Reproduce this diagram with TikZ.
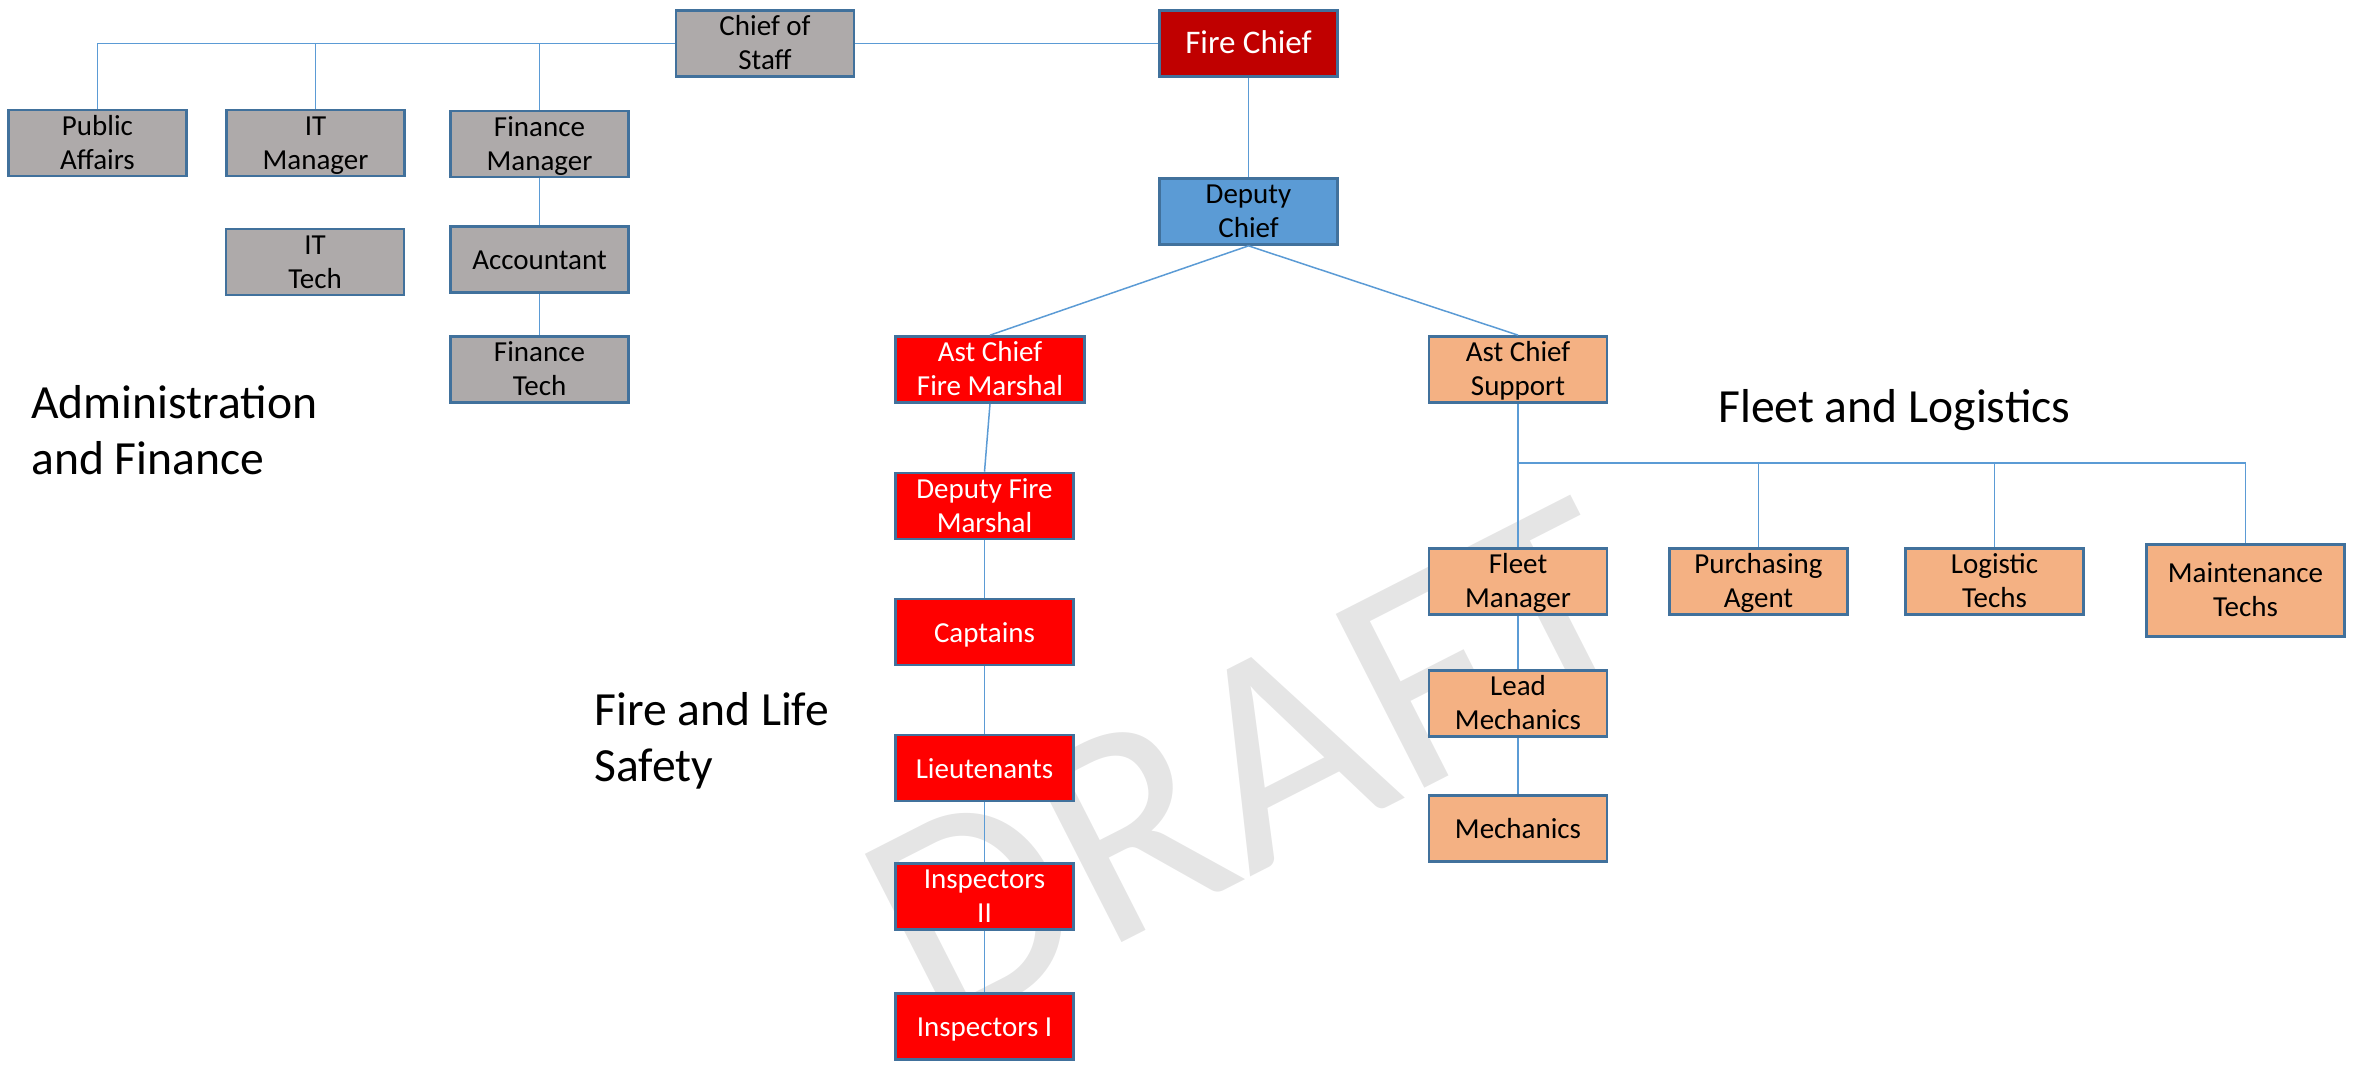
\documentclass[tikz,border=0pt]{standalone}
\usepackage{fontspec}
\setmainfont{Carlito}
\definecolor{boxline}{HTML}{41719C}
\definecolor{linkblue}{HTML}{5B9BD5}
\definecolor{greyfill}{HTML}{AEAAAA}
\definecolor{chiefred}{HTML}{C00000}
\definecolor{firered}{HTML}{FF0000}
\definecolor{depblue}{HTML}{5B9BD5}
\definecolor{supportorange}{HTML}{F4B183}
\definecolor{draftgrey}{HTML}{E5E5E5}
\tikzstyle{orgbox} = [draw=boxline, line width=1.35pt, rectangle,
    minimum width=89pt, minimum height=33pt, inner sep=0pt, align=center,
    font=\fontsize{14.5}{17}\selectfont, text height=13pt, text depth=3pt]
\tikzstyle{twoline} = [text height=29pt]
\tikzstyle{greybox} = [orgbox, fill=greyfill]
\tikzstyle{chiefbox} = [orgbox, fill=chiefred, text=white]
\tikzstyle{redbox} = [orgbox, fill=firered, text=white]
\tikzstyle{bluebox} = [orgbox, fill=depblue]
\tikzstyle{orangebox} = [orgbox, fill=supportorange]
\tikzstyle{link} = [draw=linkblue, line width=0.75pt]
\tikzstyle{grouptitle} = [font=\fontsize{23.8}{28}\selectfont, align=left,
    inner sep=0pt, anchor=base west]
\begin{document}
\begin{tikzpicture}[x=0.5pt, y=-0.5pt]
                \useasboundingbox (0,0) rectangle (2356,1066);
                % watermark
                \node[text=draftgrey, rotate=27, font=\fontsize{152}{152}\selectfont] (draft) at (1255,765) {DRAFT};
                % top
                \node[greybox, twoline] (staff) at (765,43.5) {Chief of\\Staff};
                \node[chiefbox, font=\fontsize{16.5}{18}\selectfont] (chief) at (1248.5,43.5) {Fire Chief};
                \node[bluebox, twoline] (deputy) at (1248.5,211.5) {Deputy\\Chief};
                % administration
                \node[greybox, twoline] (public) at (97.5,143) {Public\\Affairs};
                \node[greybox, twoline] (itman) at (315.5,143) {IT\\Manager};
                \node[greybox, twoline] (finman) at (539.5,144) {Finance\\Manager};
                \node[greybox, twoline] (ittech) at (315,262) {IT\\Tech};
                \node[greybox] (account) at (539.5,259.5) {Accountant};
                \node[greybox, twoline] (fintech) at (539.5,369.5) {Finance\\Tech};
                % fire and life safety
                \node[redbox, twoline, minimum width=94.5pt] (astfire) at (990,369.5) {Ast Chief\\Fire Marshal};
                \node[redbox, twoline] (depfire) at (984.5,506) {Deputy Fire\\Marshal};
                \node[redbox] (captains) at (984.5,632) {Captains};
                \node[redbox] (lieut) at (984.5,768) {Lieutenants};
                \node[redbox, twoline] (inspb) at (984.5,896.5) {Inspectors\\II};
                \node[redbox] (inspa) at (984.5,1026.5) {Inspectors I};
                % fleet and logistics
                \node[orangebox, twoline] (astsup) at (1518,369.5) {Ast Chief\\Support};
                \node[orangebox, twoline] (fleetman) at (1518,581.5) {Fleet\\Manager};
                \node[orangebox, twoline] (purchase) at (1758.5,581.5) {Purchasing\\Agent};
                \node[orangebox, twoline] (logtech) at (1994.5,581.5) {Logistic\\Techs};
                \node[orangebox, twoline, minimum width=99pt, minimum height=46pt] (maintech) at (2245.5,590.5) {Maintenance\\Techs};
                \node[orangebox, twoline] (leadmech) at (1518,703.5) {Lead\\Mechanics};
                \node[orangebox] (mech) at (1518,828.5) {Mechanics};
                \coordinate (fleetbus) at (1518,463);
                % group titles
                \node[grouptitle] (admin) at (31,474) {Administration\\and Finance};
                \node[grouptitle] (safety) at (594,781) {Fire and Life\\Safety};
                \node[grouptitle] (fleet) at (1718,422) {Fleet and Logistics};
                % links
                \draw[link] (chief.west) -- (staff.east);
                \draw[link] (staff.west) -| (public.north);
                \draw[link] (itman.north) -- (itman.north |- staff.west);
                \draw[link] (finman.north) -- (finman.north |- staff.west);
                \draw[link] (finman) -- (account) -- (fintech);
                \draw[link] (chief) -- (deputy);
                \draw[link] (deputy.south) -- (astfire.north);
                \draw[link] (deputy.south) -- (astsup.north);
                \draw[link] (astfire.south) -- (depfire.north);
                \draw[link] (depfire) -- (captains) -- (lieut) -- (inspb) -- (inspa);
                \draw[link] (astsup) -- (fleetman) -- (leadmech) -- (mech);
                \draw[link] (fleetbus) -| (maintech.north);
                \draw[link] (purchase.north) -- (purchase.north |- fleetbus);
                \draw[link] (logtech.north) -- (logtech.north |- fleetbus);
            \end{tikzpicture}
\end{document}
